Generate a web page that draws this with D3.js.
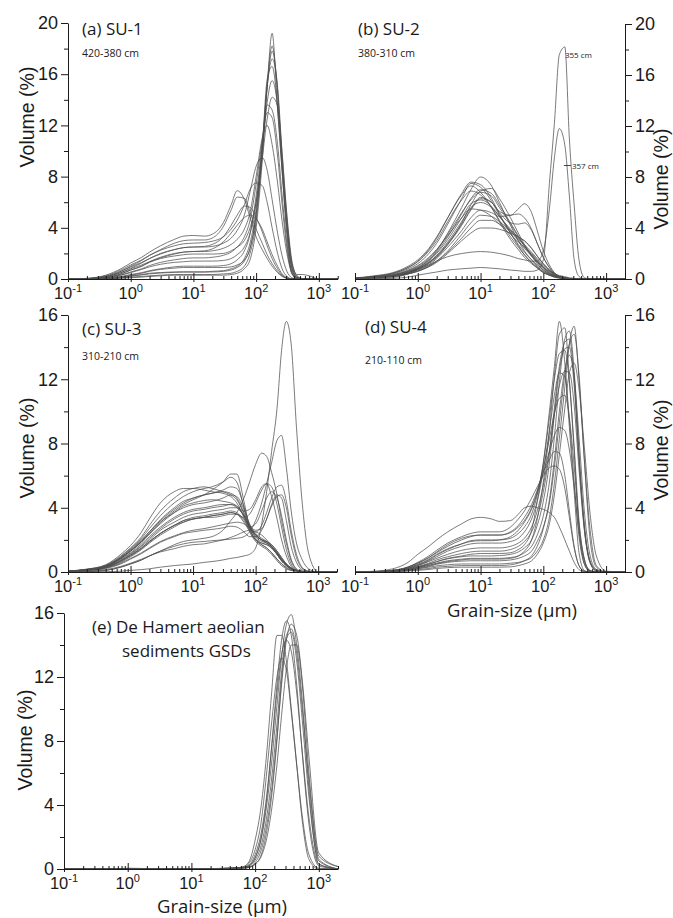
<!DOCTYPE html>
<html><head><meta charset="utf-8">
<script src="https://cdn.jsdelivr.net/npm/d3@7/dist/d3.min.js"></script>
<style>
html,body{margin:0;padding:0;background:#fff;}
svg{display:block;}
</style></head><body>
<svg id="chart" width="673" height="918"></svg>
<script>
// grain-size classes (µm)
const grainSizes = [0.1,0.2,0.4,0.7,1,1.5,2,3,5,7,10,15,20,30,40,50,65,80,100,125,150,180,220,260,310,370,450,550,700,1000,2000];

// (a) SU-1, 420-380 cm
const su1Curves = [
 [0,0,0.02,0.06,0.1,0.15,0.2,0.25,0.3,0.3,0.3,0.3,0.3,0.3,0.35,0.45,0.8,1.5,4,9.2,15,19.2,13.2,8.4,3.4,0.4,0.03,0,0,0,0],
 [0,0,0.03,0.08,0.15,0.2,0.25,0.3,0.35,0.35,0.35,0.35,0.35,0.4,0.45,0.6,1,2,4.5,9.8,15.2,18.2,14.5,8.8,4,0.9,0.1,0,0,0,0],
 [0,0.01,0.05,0.15,0.3,0.45,0.6,0.75,0.85,0.9,0.9,0.9,0.9,0.9,0.95,1.1,1.5,2.4,5,10,15,17.8,14.8,9.2,4.3,1,0.15,0.02,0,0,0],
 [0,0.01,0.05,0.15,0.25,0.35,0.45,0.5,0.55,0.55,0.55,0.55,0.6,0.65,0.8,1,1.6,2.8,5.5,10.5,15,17.2,15,9.8,4.8,1.2,0.2,0.03,0,0,0],
 [0,0.02,0.1,0.3,0.5,0.75,0.95,1.15,1.3,1.35,1.4,1.4,1.4,1.45,1.6,1.9,2.5,3.6,6,10,13.8,15.5,13.5,9,4.5,1.3,0.35,0.35,0.25,0,0],
 [0,0.02,0.12,0.4,0.7,1,1.3,1.6,1.8,1.9,1.95,1.95,1.95,2,2.2,2.5,3,4,6,9.4,12.5,14.2,13.5,9.8,5,1.5,0.25,0.03,0,0,0],
 [0,0.02,0.12,0.4,0.7,1,1.35,1.7,2,2.1,2.15,2.15,2.2,2.4,2.7,3.1,3.9,5.2,8,11,12,10.5,7.5,4.5,2,0.5,0.06,0,0,0,0],
 [0,0.03,0.15,0.5,0.85,1.25,1.6,2,2.3,2.45,2.5,2.5,2.55,2.8,3.2,3.8,5,6.8,8.8,9.5,8.5,6.2,3.6,1.8,0.6,0.1,0,0,0,0,0],
 [0,0.03,0.2,0.6,1,1.45,1.85,2.25,2.6,2.75,2.8,2.85,2.95,3.3,3.9,4.6,5.8,7,7.5,7.3,6,4,2,0.8,0.2,0.02,0,0,0,0,0],
 [0,0.05,0.3,0.8,1.25,1.7,2.1,2.6,3.1,3.35,3.4,3.35,3.5,4.4,5.8,6.9,6.2,4.8,3.3,2.3,1.6,1,0.5,0.2,0.05,0,0,0,0,0,0],
 [0,0.04,0.25,0.7,1.1,1.5,1.85,2.3,2.8,3,3.05,3.05,3.2,4.1,5.4,6.4,6.3,5.2,3.9,2.8,1.9,1.2,0.6,0.25,0.06,0,0,0,0,0,0],
 [0,0.03,0.2,0.6,0.95,1.3,1.6,1.95,2.3,2.45,2.5,2.55,2.7,3.3,4.2,5,5.7,5.6,4.8,3.7,2.6,1.6,0.8,0.3,0.08,0,0,0,0,0,0],
 [0,0.03,0.18,0.5,0.8,1.1,1.35,1.65,1.95,2.1,2.15,2.2,2.35,2.9,3.6,4.2,4.8,5,4.7,3.9,2.9,1.9,1,0.4,0.1,0.01,0,0,0,0,0],
 [0,0.01,0.06,0.2,0.35,0.5,0.65,0.8,0.95,1,1,1,1,1.05,1.2,1.5,2.2,3.5,6.5,10.5,13.6,13.2,10.5,6.5,2.8,0.6,0.08,0,0,0,0],
 [0,0.02,0.1,0.32,0.55,0.8,1.05,1.3,1.5,1.6,1.65,1.65,1.7,1.85,2.1,2.5,3.3,4.6,7.4,10.8,13,12.6,9.6,5.8,2.4,0.5,0.05,0,0,0,0],
 [0,0.01,0.04,0.12,0.22,0.32,0.4,0.47,0.52,0.55,0.55,0.55,0.55,0.6,0.7,0.9,1.4,2.4,5,10.2,15.6,16.6,13.4,8.4,3.8,0.8,0.1,0,0,0,0]
];

// (b) SU-2, 380-310 cm
const su2Curves = [
 [0.05,0.15,0.3,0.6,0.9,1.5,2.2,3.6,5.6,7,8,7.3,6,4.2,3,2.2,1.5,1,0.6,0.35,0.2,0.1,0.05,0.02,0,0,0,0,0,0,0],
 [0.05,0.2,0.4,0.8,1.2,2,2.8,4.3,6.3,7.5,7.2,6.1,5,3.6,2.7,2.1,1.5,1.1,0.7,0.4,0.25,0.15,0.08,0.04,0.02,0,0,0,0,0,0],
 [0.08,0.25,0.5,1,1.5,2.4,3.3,4.8,6.6,7.3,6.8,5.6,4.5,3.1,2.3,1.7,1.2,0.85,0.5,0.3,0.2,0.1,0.05,0.02,0,0,0,0,0,0,0],
 [0.05,0.15,0.3,0.6,0.9,1.5,2.1,3.3,5.1,6.3,7,6.7,5.8,4.4,3.4,2.6,1.8,1.3,0.8,0.45,0.25,0.12,0.05,0.02,0,0,0,0,0,0,0],
 [0.04,0.12,0.25,0.5,0.8,1.3,1.8,2.8,4.3,5.5,6.4,6,5.3,5,5.5,5.9,5.2,3.8,2.2,1.1,0.5,0.2,0.08,0.03,0,0,0,0,0,0,0],
 [0.03,0.1,0.2,0.45,0.7,1.1,1.6,2.5,3.8,4.8,5.4,5.2,4.9,5,5.1,4.8,3.9,2.8,1.7,0.9,0.45,0.2,0.08,0.03,0,0,0,0,0,0,0],
 [0.04,0.12,0.25,0.5,0.8,1.3,1.85,2.9,4.5,5.6,6,5.6,4.9,3.9,3.2,2.7,2.1,1.6,1.1,0.7,0.4,0.2,0.08,0.03,0,0,0,0,0,0,0],
 [0.03,0.1,0.2,0.4,0.65,1,1.4,2.2,3.5,4.4,5,4.9,4.5,3.8,3.3,3,2.4,1.8,1.2,0.7,0.4,0.2,0.08,0.03,0,0,0,0,0,0,0],
 [0.03,0.1,0.2,0.4,0.6,0.95,1.3,2,3,3.6,4,4,3.9,3.6,3.3,3,2.4,1.8,1.2,0.7,0.4,0.2,0.1,0.04,0.01,0,0,0,0,0,0],
 [0.06,0.2,0.45,0.9,1.35,2.2,3,4.5,6.2,6.9,6.6,5.6,4.6,3.3,2.5,1.9,1.3,0.9,0.55,0.3,0.15,0.08,0.03,0,0,0,0,0,0,0,0],
 [0.04,0.12,0.25,0.5,0.75,1.2,1.7,2.7,4.4,5.8,6.9,7.1,6.3,4.8,3.6,2.7,1.8,1.2,0.7,0.4,0.2,0.1,0.04,0.01,0,0,0,0,0,0,0],
 [0.04,0.12,0.25,0.5,0.8,1.25,1.75,2.7,4.2,5.4,6.3,6,5.2,4.4,4.3,4.4,3.8,2.8,1.7,0.9,0.45,0.2,0.08,0.03,0,0,0,0,0,0,0],
 [0.05,0.15,0.35,0.7,1.05,1.7,2.3,3.4,4.8,5.5,5.4,4.9,4.3,3.5,2.9,2.5,1.9,1.4,0.9,0.5,0.3,0.15,0.06,0.02,0,0,0,0,0,0,0],
 [0.06,0.2,0.45,0.9,1.4,2.3,3.2,4.8,6.7,7.6,7.4,6.3,5.1,3.6,2.6,1.9,1.3,0.9,0.5,0.3,0.15,0.07,0.03,0.01,0,0,0,0,0,0,0],
 [0.04,0.12,0.28,0.55,0.85,1.4,2,3.1,4.8,5.9,6.2,5.7,4.9,3.8,3,2.4,1.8,1.3,0.9,0.6,0.4,0.28,0.18,0.1,0.05,0.02,0,0,0,0,0],
 [0.05,0.15,0.32,0.65,1,1.6,2.3,3.5,5.2,6.2,6.8,6.5,5.6,4.3,3.3,2.6,1.9,1.4,0.9,0.5,0.3,0.15,0.06,0.02,0,0,0,0,0,0,0],
 [0.03,0.09,0.2,0.4,0.6,1,1.4,2.1,3.2,4,4.6,4.6,4.3,3.7,3.1,2.6,2,1.5,1,0.6,0.35,0.18,0.08,0.03,0,0,0,0,0,0,0]
];
// the two sandy samples of SU-2
const su2Sample355 = [0,0.01,0.05,0.15,0.3,0.45,0.55,0.7,0.8,0.85,0.9,0.85,0.8,0.7,0.65,0.6,0.6,0.7,1.5,7.5,12.2,17.6,18.2,11,5.8,1.5,0.1,0,0,0,0];
const su2Sample357 = [0,0.02,0.12,0.4,0.75,1.1,1.4,1.75,2,2.1,2.15,2.1,2,1.8,1.6,1.5,1.4,1.4,2.2,5.5,9.5,11.8,10.5,6.5,1.5,0.2,0,0,0,0,0];
const su2Labels = ["355 cm", "357 cm"];

// (c) SU-3, 310-210 cm
const su3Curves = [
 [0.05,0.15,0.35,0.85,1.3,1.9,2.4,3.1,3.8,4.2,4.5,4.8,5.1,5.6,6.1,6.1,4.4,2.8,2,1.7,1.5,1.2,0.8,0.5,0.3,0.15,0.08,0.03,0,0,0],
 [0.05,0.15,0.4,0.95,1.45,2.1,2.7,3.5,4.3,4.7,5,5.2,5.3,5.6,5.9,5.6,4,2.7,2,1.8,1.7,1.5,1.1,0.7,0.4,0.2,0.1,0.04,0,0,0],
 [0.06,0.18,0.45,1.1,1.65,2.5,3.3,4.3,5,5.2,5.2,5.1,5,4.9,4.7,4.3,3.4,2.5,1.9,1.6,1.4,1.1,0.7,0.4,0.2,0.1,0.05,0,0,0,0],
 [0.05,0.15,0.38,0.9,1.35,1.95,2.5,3.25,4,4.4,4.6,4.8,4.9,5,4.9,4.6,3.7,2.8,2.2,1.9,1.8,1.6,1.2,0.8,0.45,0.2,0.1,0.04,0,0,0],
 [0.05,0.14,0.35,0.85,1.3,1.85,2.35,3,3.7,4.1,4.3,4.45,4.5,4.4,4.3,4.1,3.5,2.8,2.3,2,1.9,1.7,1.3,0.9,0.5,0.25,0.1,0.04,0,0,0],
 [0.05,0.14,0.35,0.8,1.2,1.75,2.2,2.8,3.4,3.7,3.9,4,4.1,4.2,4.2,4,3.5,2.9,2.4,2.1,1.9,1.6,1.2,0.8,0.45,0.2,0.1,0.03,0,0,0],
 [0.04,0.12,0.3,0.7,1.05,1.5,1.9,2.4,2.9,3.2,3.3,3.4,3.5,3.6,3.7,3.6,3.3,2.8,2.3,2,1.8,1.6,1.2,0.8,0.5,0.25,0.1,0.04,0,0,0],
 [0.03,0.1,0.25,0.55,0.85,1.2,1.5,1.9,2.25,2.45,2.6,2.7,2.8,2.95,3.05,3.1,3,2.7,2.3,2,1.8,1.5,1.1,0.7,0.4,0.2,0.1,0.03,0,0,0],
 [0.02,0.06,0.15,0.35,0.55,0.8,1,1.25,1.45,1.6,1.7,1.75,1.85,2,2.15,2.3,2.5,2.6,2.5,2.3,2,1.6,1.1,0.7,0.4,0.2,0.08,0.02,0,0,0],
 [0.06,0.17,0.42,1,1.5,2.2,2.9,3.8,4.6,5,5.2,5.3,5.2,5,4.8,4.5,3.6,2.6,2,1.7,1.5,1.2,0.8,0.5,0.25,0.1,0.05,0,0,0,0],
 [0.05,0.14,0.36,0.85,1.3,1.9,2.4,3.1,3.7,4,4.2,4.3,4.4,4.6,4.8,4.7,3.9,3,2.3,2,1.9,1.7,1.3,0.9,0.5,0.25,0.1,0.04,0,0,0],
 [0.04,0.12,0.3,0.75,1.15,1.65,2.1,2.7,3.3,3.6,3.8,3.9,4,4.1,4.2,4.1,3.5,2.9,2.6,2.7,3.3,4.2,4.8,4.6,3.2,1.6,0.6,0.15,0.02,0,0],
 [0.04,0.12,0.3,0.7,1.1,1.6,2,2.6,3.1,3.4,3.6,3.7,3.8,3.9,4,4,3.8,3.9,4.5,5.3,5.5,4.7,3.3,2,1,0.35,0.08,0,0,0,0],
 [0.03,0.1,0.25,0.6,0.95,1.4,1.8,2.3,2.8,3.1,3.3,3.4,3.5,3.6,3.7,3.6,3.1,2.6,2.5,2.9,3.7,4.6,5.3,5.4,4.4,2.6,1.1,0.3,0.05,0,0],
 [0,0,0.02,0.05,0.1,0.15,0.2,0.3,0.4,0.45,0.5,0.6,0.65,0.75,0.85,0.9,1,1.1,1.5,3,5,7.5,10.2,13.8,15.6,14.2,9,4.5,1.2,0,0],
 [0,0.02,0.1,0.3,0.5,0.75,1,1.3,1.6,1.75,1.85,1.9,1.95,2,2.05,2.1,2.2,2.5,3.2,4.3,5.5,6.8,8.2,8.5,6.5,3.8,1.8,0.8,0.2,0,0],
 [0,0.02,0.1,0.3,0.5,0.75,1,1.3,1.7,1.9,2,2.1,2.2,2.6,3.2,3.7,4.6,5.6,6.7,7.4,7.2,6.2,4.8,3.2,1.8,0.7,0.15,0,0,0,0],
 [0.04,0.12,0.3,0.7,1.05,1.5,1.9,2.4,2.9,3.1,3.3,3.4,3.4,3.5,3.6,3.6,3.4,3.6,4.3,5.1,5.5,5.3,4.2,2.8,1.4,0.5,0.1,0,0,0,0],
 [0.04,0.11,0.28,0.65,1,1.45,1.85,2.4,2.9,3.2,3.4,3.5,3.6,3.7,3.8,3.7,3.2,2.8,3,3.8,4.6,5,4.6,3.5,2,0.8,0.2,0.03,0,0,0],
 [0.03,0.09,0.22,0.5,0.8,1.15,1.45,1.85,2.2,2.4,2.5,2.6,2.65,2.75,2.85,2.8,2.5,2.2,2.2,2.6,3.3,4.1,4.7,4.8,4,2.3,0.9,0.25,0.04,0,0],
 [0.05,0.15,0.38,0.9,1.4,2,2.5,3.2,3.9,4.3,4.6,4.8,4.9,5.1,5.3,5.2,4.1,2.9,2.1,1.8,1.7,1.5,1.1,0.7,0.4,0.2,0.1,0.03,0,0,0]
];

// (d) SU-4, 210-110 cm
const su4Curves = [
 [0,0.05,0.2,0.6,1.1,1.6,2,2.5,3,3.3,3.4,3.3,3.15,3.2,3.6,4,4.1,4,3.9,3.7,3.4,2.8,2,1.3,0.6,0.15,0.02,0,0,0,0],
 [0,0.02,0.1,0.3,0.55,0.9,1.2,1.6,2,2.2,2.3,2.3,2.3,2.5,2.9,3.4,4.2,5.1,6.2,7,7.5,7.4,6,3.8,1.6,0.4,0.05,0,0,0,0],
 [0,0.02,0.1,0.32,0.6,1,1.35,1.8,2.2,2.4,2.5,2.5,2.5,2.8,3.3,3.8,4.6,5.3,6,6.5,6.6,6.4,5.2,3.4,1.5,0.4,0.05,0,0,0,0],
 [0,0.01,0.07,0.22,0.4,0.7,0.95,1.3,1.6,1.75,1.8,1.8,1.8,1.9,2.1,2.5,3.3,4.4,6.3,8.8,11,12.4,12.2,9.5,5.6,2.2,0.5,0.05,0,0,0],
 [0,0.01,0.05,0.15,0.3,0.5,0.65,0.85,1,1.1,1.15,1.15,1.15,1.2,1.4,1.7,2.6,4.4,6.8,10,12.8,15.6,13,9,5,1.2,0.1,0,0,0,0],
 [0,0.01,0.04,0.12,0.2,0.3,0.38,0.45,0.5,0.5,0.5,0.5,0.5,0.55,0.6,0.7,0.9,1.3,2,3.4,5.5,8.3,11.5,14.2,15.3,12,7,2.8,0.4,0,0],
 [0,0.01,0.05,0.15,0.28,0.42,0.55,0.7,0.8,0.85,0.85,0.85,0.85,0.9,1,1.2,1.6,2.3,3.5,5.6,8.4,11.8,14.5,15,12.5,7.5,3,0.7,0.1,0,0],
 [0,0.01,0.06,0.2,0.35,0.55,0.75,0.95,1.15,1.25,1.3,1.3,1.3,1.4,1.6,1.9,2.5,3.4,5,7.4,10.2,12.8,14.3,14.5,12,7.2,2.8,0.7,0.1,0,0],
 [0,0.02,0.08,0.25,0.45,0.75,1.05,1.4,1.75,1.95,2,2,2,2.1,2.4,2.8,3.6,4.8,6.8,9.6,12,13.6,13.8,11.8,7.8,3.2,0.8,0.1,0,0,0],
 [0,0.01,0.04,0.13,0.22,0.35,0.48,0.6,0.68,0.7,0.7,0.7,0.7,0.75,0.85,1,1.3,1.9,2.8,4.3,6.5,9.3,12.3,14.2,14.8,12.3,7,2.2,0.3,0,0],
 [0,0.02,0.07,0.22,0.4,0.65,0.85,1.1,1.35,1.45,1.5,1.5,1.5,1.6,1.8,2.1,2.8,3.8,5.4,7.6,9.8,11.6,12.5,12.4,10.4,6.4,2.6,0.7,0.1,0,0],
 [0,0,0.03,0.08,0.15,0.22,0.3,0.35,0.4,0.4,0.4,0.4,0.4,0.45,0.55,0.7,1,1.6,2.7,4.5,7,10,12.6,13.5,12.2,8.4,3.8,1.1,0.15,0,0],
 [0,0.02,0.1,0.3,0.55,0.9,1.25,1.7,2.1,2.25,2.3,2.3,2.3,2.45,2.8,3.2,4,5,6.5,8.3,9.9,10.8,11,9.6,6.6,3,0.8,0.1,0,0,0],
 [0,0.02,0.08,0.26,0.48,0.8,1.1,1.45,1.75,1.9,1.95,1.95,2,2.2,2.6,3.1,3.9,4.9,6.2,7.5,8.5,9,8.8,7.6,5.3,2.5,0.7,0.1,0,0,0],
 [0,0.01,0.05,0.14,0.25,0.4,0.52,0.65,0.75,0.8,0.8,0.8,0.8,0.85,1,1.3,2,3.3,5.6,8.8,12.2,14.8,15.2,12,7.5,2.8,0.5,0.05,0,0,0],
 [0,0.01,0.05,0.16,0.3,0.48,0.64,0.82,0.95,1,1,1,1.02,1.1,1.25,1.5,2,2.9,4.4,6.8,9.8,12.5,13.9,14,11.6,7,2.7,0.6,0.05,0,0],
 [0,0,0.02,0.06,0.1,0.16,0.22,0.27,0.3,0.3,0.3,0.3,0.3,0.32,0.4,0.5,0.7,1.1,1.8,3,4.8,7.3,10.2,12.4,13,11.4,7.8,3.8,1,0.05,0]
];

// (e) De Hamert aeolian sediments
const hamertCurves = [
 [0,0,0,0.02,0.05,0.04,0.02,0,0,0,0,0.01,0.02,0.03,0.04,0.05,0.08,0.2,0.7,1.9,3.8,6.5,10.2,13.2,15.3,15.9,14,10.5,5,0.3,0],
 [0,0,0,0,0,0,0,0,0,0,0,0.01,0.02,0.03,0.04,0.06,0.15,0.45,1.8,4,7,10.8,14.6,14.6,13,10,6.5,3,0.6,0,0],
 [0,0,0,0.01,0.03,0.03,0.01,0,0,0,0,0,0.01,0.02,0.03,0.04,0.06,0.1,0.4,1.2,2.6,4.8,8.2,11.5,14.3,15.3,14.6,11.8,7,1,0.15],
 [0,0,0,0,0,0,0,0,0,0,0,0.01,0.02,0.03,0.04,0.05,0.08,0.15,0.55,1.5,3.1,5.5,9,12.3,14.6,15,13.5,10,5.5,0.6,0],
 [0,0,0,0,0,0,0,0,0,0,0,0.01,0.02,0.04,0.06,0.08,0.12,0.25,0.9,2.3,4.4,7.4,11,13.4,14.3,13.6,11,7.3,3.2,0.3,0],
 [0,0,0,0,0,0,0,0,0,0,0,0,0.01,0.02,0.03,0.04,0.06,0.1,0.3,0.9,2.2,4.4,8,11.8,14.4,14.8,13,9.3,4.5,0.5,0],
 [0,0,0,0,0,0,0,0,0,0,0,0,0.01,0.02,0.03,0.04,0.06,0.1,0.3,0.8,1.8,3.6,6.5,9.6,12.5,14,14,11.5,6,0.8,0.15],
 [0,0,0,0,0,0,0,0,0,0,0,0.01,0.02,0.03,0.04,0.06,0.1,0.2,0.7,2,4.2,7.5,11.5,14.3,15.5,14.6,11.5,7.2,2.8,0.2,0],
 [0,0,0,0,0,0,0,0,0,0,0,0.01,0.02,0.04,0.06,0.08,0.1,0.35,1.2,3,5.8,9,12,13.2,12.4,9.8,6.5,3.3,0.9,0.05,0]
];

const xTickValues = [0.1, 1, 10, 100, 1000];
const xTickExponents = ["-1", "0", "1", "2", "3"];
const yTicks20 = [0, 4, 8, 12, 16, 20];
const yTicks16 = [0, 4, 8, 12, 16];
const panelTitles = ["(a) SU-1", "(b) SU-2", "(c) SU-3", "(d) SU-4"];
const depthRanges = ["420-380 cm", "380-310 cm", "310-210 cm", "210-110 cm"];
const hamertTitle = ["(e) De Hamert aeolian", "sediments GSDs"];
const yAxisTitle = "Volume (%)";
const xAxisTitle = "Grain-size (\u03bcm)";

const svg = d3.select("#chart");
const NUM = "'Liberation Sans', Arial, sans-serif";
const HUM = "'Open Sans', 'Noto Sans', sans-serif";
const LINE = "#4f4f4f";
const AX = "#1a1a1a";

const layouts = [
  {curves: su1Curves, x0: 68, x1: 337.7, yB: 279, yT: 23, ymax: 20, ticks: yTicks20, side: "left",
   title: panelTitles[0], sub: depthRanges[0], tx: 82, ty: 35, sx: 82, sy: 57, ylx: 27, yly: 117},
  {curves: su2Curves.concat([su2Sample357, su2Sample355]), x0: 355, x1: 625, yB: 279, yT: 24, ymax: 20, ticks: yTicks20, side: "right",
   title: panelTitles[1], sub: depthRanges[1], tx: 358, ty: 35, sx: 358, sy: 57, ylx: 661, yly: 179},
  {curves: su3Curves, x0: 68, x1: 337, yB: 572, yT: 315, ymax: 16, ticks: yTicks16, side: "left",
   title: panelTitles[2], sub: depthRanges[2], tx: 82, ty: 335, sx: 82, sy: 360, ylx: 27, yly: 448},
  {curves: su4Curves, x0: 355, x1: 625, yB: 572, yT: 315, ymax: 16, ticks: yTicks16, side: "right",
   title: panelTitles[3], sub: depthRanges[3], tx: 365, ty: 333, sx: 365, sy: 364, ylx: 661, yly: 450,
   xlab: {x: 512, y: 617}},
  {curves: hamertCurves, x0: 64, x1: 338, yB: 869, yT: 613, ymax: 16, ticks: yTicks16, side: "left",
   ylx: 25, yly: 740, xlab: {x: 222, y: 913}}
];

const scalesByPanel = [];

layouts.forEach((p, pi) => {
  const g = svg.append("g");
  const x = d3.scaleLog().domain([0.1, 2000]).range([p.x0, p.x1]);
  const y = d3.scaleLinear().domain([0, p.ymax]).range([p.yB, p.yT]);
  scalesByPanel.push({x, y});

  // curves
  const line = d3.line()
    .x((d, i) => x(grainSizes[i]))
    .y(d => y(d))
    .curve(d3.curveMonotoneX);
  g.append("g").selectAll("path").data(p.curves).join("path")
    .attr("d", line)
    .attr("fill", "none")
    .attr("stroke", LINE)
    .attr("stroke-width", 0.75)
    .attr("stroke-linejoin", "round");

  // x axis
  const minor = [];
  for (let e = -1; e <= 3; e++) for (let k = 2; k <= 9; k++) {
    const v = k * Math.pow(10, e);
    if (v <= 2000) minor.push(v);
  }
  const xg = g.append("g").attr("transform", `translate(0,${p.yB})`);
  xg.call(d3.axisBottom(x).tickValues(xTickValues).tickSize(-6).tickSizeOuter(0).tickFormat(""));
  const xg2 = g.append("g").attr("transform", `translate(0,${p.yB})`);
  xg2.call(d3.axisBottom(x).tickValues(xTickValues).tickSize(3).tickSizeOuter(0).tickFormat(""));
  xg2.select(".domain").remove();
  const xg3 = g.append("g").attr("transform", `translate(0,${p.yB})`);
  xg3.call(d3.axisBottom(x).tickValues(minor).tickSize(-3).tickSizeOuter(0).tickFormat(""));
  xg3.select(".domain").remove();
  [xg, xg2, xg3].forEach(a => {
    a.selectAll("path,line").attr("stroke", AX).attr("stroke-width", 1);
  });

  xTickValues.forEach((v, i) => {
    const t = g.append("text")
      .attr("x", x(v)).attr("y", p.yB + 20)
      .attr("text-anchor", "middle")
      .attr("font-family", NUM).attr("font-size", 16.5).attr("fill", AX);
    t.append("tspan").text("10");
    t.append("tspan").attr("dy", -7).attr("font-size", 11).text(xTickExponents[i]);
  });

  // y axis
  const minorY = d3.range(2, p.ymax, 4);
  const ax = p.side === "left" ? d3.axisLeft(y) : d3.axisRight(y);
  const ax2 = p.side === "left" ? d3.axisLeft(y) : d3.axisRight(y);
  const axX = p.side === "left" ? p.x0 : p.x1;
  const yg = g.append("g").attr("transform", `translate(${axX},0)`)
    .call(ax.tickValues(p.ticks).tickSize(7).tickPadding(3).tickSizeOuter(0));
  const yg2 = g.append("g").attr("transform", `translate(${axX},0)`)
    .call(ax2.tickValues(minorY).tickSize(4).tickSizeOuter(0).tickFormat(""));
  yg2.select(".domain").remove();
  [yg, yg2].forEach(a => a.selectAll("path,line").attr("stroke", AX).attr("stroke-width", 1));
  yg.selectAll("text").attr("font-family", NUM).attr("font-size", 18).attr("fill", AX);

  // y label
  g.append("text")
    .attr("transform", `translate(${p.ylx},${p.yly}) rotate(-90)`)
    .attr("text-anchor", "middle").attr("dominant-baseline", "central")
    .attr("font-family", NUM).attr("font-size", 19.5).attr("fill", AX)
    .text(yAxisTitle);

  if (p.xlab) {
    g.append("text").attr("x", p.xlab.x).attr("y", p.xlab.y)
      .attr("text-anchor", "middle")
      .attr("font-family", HUM).attr("font-size", 18.5).attr("fill", AX)
      .text(xAxisTitle);
  }
  if (p.title) {
    g.append("text").attr("x", p.tx).attr("y", p.ty)
      .attr("font-family", HUM).attr("font-size", 17).attr("fill", AX).text(p.title);
    g.append("text").attr("x", p.sx).attr("y", p.sy)
      .attr("font-family", HUM).attr("font-size", 10.5).attr("fill", AX).text(p.sub);
  }
});

// panel (e) title
const eT = svg.append("g").attr("font-family", HUM).attr("font-size", 17).attr("fill", AX);
eT.append("text").attr("x", 92).attr("y", 633).text(hamertTitle[0]);
eT.append("text").attr("x", 122).attr("y", 657).text(hamertTitle[1]);

// sample labels in (b)
const sb = scalesByPanel[1];
const lab = svg.append("g").attr("font-family", HUM).attr("font-size", 8).attr("fill", AX);
lab.append("text").attr("x", sb.x(205) + 2).attr("y", sb.y(17.6) + 3).text(su2Labels[0]);
lab.append("line").attr("x1", sb.x(205) + 1).attr("x2", sb.x(205) + 8)
  .attr("y1", sb.y(8.9)).attr("y2", sb.y(8.9)).attr("stroke", AX).attr("stroke-width", 0.8);
lab.append("text").attr("x", sb.x(205) + 9).attr("y", sb.y(8.9) + 3).text(su2Labels[1]);
</script>
</body></html>
